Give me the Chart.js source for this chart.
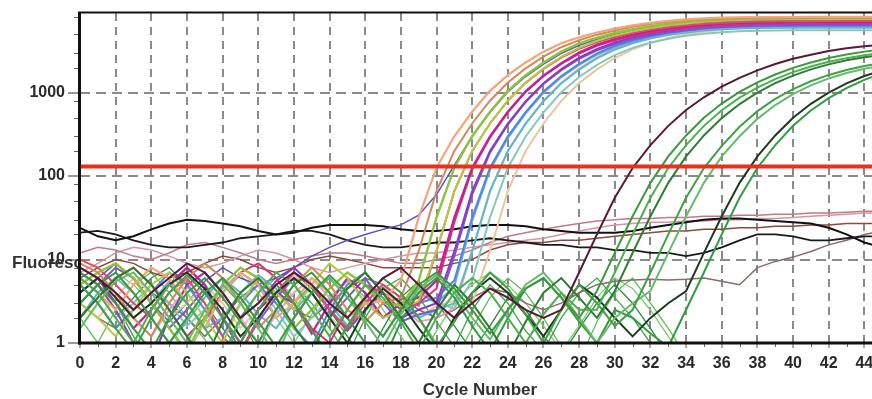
<!DOCTYPE html>
<html><head><meta charset="utf-8">
<script src="https://cdn.jsdelivr.net/npm/chart.js@4"></script>
<style>
html,body{margin:0;padding:0;background:#fff;overflow:hidden;width:872px;height:399px}
#wrap{position:absolute;left:0;top:0;width:900px;height:399px}
</style>
</head><body><div id="wrap"><canvas id="c" width="900" height="399"></canvas></div>
<script>
// ---- data ----
const cycles = [0,1,2,3,4,5,6,7,8,9,10,11,12,13,14,15,16,17,18,19,20,21,22,23,24,25,26,27,28,29,30,31,32,33,34,35,36,37,38,39,40,41,42,43,44,45];
const xTickValues = [0,2,4,6,8,10,12,14,16,18,20,22,24,26,28,30,32,34,36,38,40,42,44];
const yTickValues = [1,10,100,1000];
const yMinorValues = [2,3,5,8,20,30,50,80,200,300,500,800,2000,3000,5000,8000];
const threshold = 130;
const xTitle = 'Cycle Number';
const yTitle = 'Fluorescence';

// early amplifying wells
const e1 = [6,4,2.5,5,8,6,3,1.5,4,7,5,2,3,6,4,2,3,3.2,5.6,32,126,300,590,1050,1620,2300,3100,3900,4600,5250,5850,6400,6850,7250,7550,7780,7920,8000,8020,8050,8060,8080,8090,8100,8100,8110];
const e2 = [9,7,4,2,1.2,3,6,9,6,3,1.5,2.5,5,8,5,2.5,1.8,3,3.5,12.6,66,200,427,800,1320,1950,2700,3500,4250,4950,5550,6150,6650,7050,7350,7600,7750,7850,7900,7920,7930,7940,7950,7950,7960,7960];
const e3 = [5,7,9,6,3,1.5,0.8,2,5,8,6,3.5,1.5,2.5,4.5,7,5,3,2.8,5.6,32,126,300,590,1050,1620,2300,3100,3880,4550,5180,5750,6250,6680,7050,7330,7530,7660,7740,7780,7800,7810,7820,7820,7830,7830];
const e4 = [3,2,1.2,2.5,5,7,4,2,1,3,6,4,2.5,5,9,6,3,2,2.5,3.2,12.6,66,200,427,800,1320,1950,2680,3450,4180,4850,5420,5950,6400,6750,7050,7250,7400,7500,7550,7580,7600,7600,7610,7610,7620];
const e5 = [10,8,5,3,2,4,6,3,1.2,0.7,2,4,7,5,2.5,1.5,3,5,3.5,2.8,12.6,66,200,427,800,1310,1920,2620,3350,4030,4650,5200,5680,6080,6420,6700,6900,7030,7110,7160,7180,7190,7200,7200,7210,7210];
const e6 = [4,6,3,1.5,2.5,5,8,5,2,1,2.5,4,3,1.3,3,6,4,2,3,3.5,5.6,32,126,300,590,1040,1600,2260,3020,3760,4380,4950,5450,5880,6220,6500,6700,6830,6910,6960,6980,6990,7000,7000,7010,7010];
const e7 = [2,3.5,6,8,5,2.5,1.2,2,4,7,9,6,3,1.5,1,2.5,5,4,2.5,3,4.5,28,120,290,580,1020,1570,2210,2930,3630,4230,4780,5260,5670,6000,6270,6470,6610,6700,6750,6780,6790,6800,6800,6810,6810];
const e8 = [7,5,2.5,1,0.6,2,5,7,4,2,3,5.5,8,5,2.5,1.4,2.5,4,2,2.5,3,12.6,66,200,427,790,1300,1910,2620,3330,3980,4570,5080,5520,5880,6180,6400,6570,6670,6730,6760,6780,6790,6800,6800,6810];
const e9 = [3,5,8,6,3,1.5,2.5,4.5,2,0.8,1.8,3.5,6,4,2,3.5,6,3,1.8,2.2,2.5,11,60,190,415,770,1270,1860,2540,3210,3830,4380,4860,5270,5610,5890,6100,6260,6370,6430,6460,6480,6490,6500,6500,6510];
const e10 = [5,3,1.5,2.5,4,7,5,2.5,1.2,3,5,3,1.5,0.9,2.5,5,7,4,2,3,3.5,5.6,32,126,300,585,1030,1580,2220,2950,3640,4220,4740,5200,5570,5860,6060,6190,6260,6290,6300,6310,6310,6320,6320,6320];
const e11 = [8,6,3.5,2,3,5.5,3,1.5,2,4,6.5,4.5,2.5,4,6,3.5,2,1.2,2.5,4,3,4.8,29,118,285,565,995,1530,2150,2850,3510,4070,4570,5010,5370,5650,5850,5980,6050,6080,6090,6100,6100,6110,6110,6110];
const e12 = [2,4,6,4,2,1,1.8,3.5,6,4,2.2,1.5,3,5,3,1.6,2.4,4.5,3,2,2.5,3,12.6,66,200,425,790,1290,1890,2580,3270,3890,4440,4900,5270,5560,5760,5880,5950,5980,5990,6000,6000,6010,6010,6010];
const e13 = [6,4,2,3,5,3,1.6,2.5,4.5,7,5,2.5,1.2,2,3.5,5.5,3.5,2,3,4.5,3,2.6,5.6,32,126,298,580,1010,1540,2150,2820,3440,3970,4420,4800,5090,5300,5440,5520,5570,5590,5600,5600,5610,5610,5610];
const e14 = [5,7,4,2,1.2,2.5,4.5,7,4,2,1,2.2,4,6,3.5,2,3.5,5,2.8,1.8,2,2.6,12.6,66,200,427,795,1310,1930,2650,3400,4100,4720,5240,5650,5960,6190,6340,6420,6460,6480,6490,6500,6500,6510,6510];
const e15 = [3,2,3.5,6,4,2,3,5,3,1.5,2.5,4,6.5,4,2,1.4,2.5,4,3,2,2.8,3.2,3,12.6,66,200,427,795,1300,1900,2600,3300,3950,4520,5000,5380,5680,5900,6040,6120,6160,6180,6190,6200,6200,6210];
const e16 = [4,6,9,6,3,1.8,3,5.5,8,6,5,6,8,11,14,17,20,23,26,34,60,135,300,580,1020,1560,2200,2950,3700,4350,4950,5480,5950,6350,6680,6930,7100,7220,7280,7310,7330,7340,7350,7350,7360,7360];

// late amplifying wells
const l1 = [8,6,4,2.5,4,6,9,7,4,2,3,5,7,5,3,2,3.5,6,8,5,3,2,3,4.5,3.5,2.5,2,2.5,7,20,55,125,235,400,620,880,1180,1500,1850,2200,2550,2850,3150,3400,3600,3750];
const l2 = [3,5,7,4,2,1,2,4,6,3.5,1.8,0.9,2,4,6.5,4,2,1.2,2.5,5,7,4.5,2.5,1.3,2.5,4.5,6,3.5,2,4.2,12,33,83,172,307,500,740,1020,1330,1650,1980,2300,2600,2870,3100,3280];
const l3 = [6,4,2,1,2.5,5,3,1.5,0.7,2,4,7,5,2.5,1.2,2.5,5,3.5,1.8,0.8,2,4,6,4,2,1,2.2,4,2.5,2.5,7,20,55,125,235,400,615,870,1150,1450,1760,2060,2340,2590,2800,2980];
const l4 = [2,3.5,6,8,5,2.5,1.2,0.6,1.8,4,6,3.5,1.6,0.8,2,4.5,7,4,2,1,2.5,5,3,1.5,0.7,1.8,4,6,3.5,2,4.2,12,33,83,172,307,495,730,1000,1300,1600,1900,2180,2440,2650,2820];
const l5 = [5,3,1.5,0.8,2,4,6.5,4,2,1,2.5,5,3,1.4,0.7,1.6,3.5,6,4,2,0.9,1.8,4,7,4.5,2.2,1,2.5,5,3,1.6,2.5,7,20,55,125,230,390,600,840,1100,1370,1630,1870,2080,2260];
const l6 = [1.5,3,5.5,7,4,2,1,2.5,5,3,1.5,0.7,2,4,6,3.5,1.8,0.9,2.2,4.5,6.5,4,2,1.1,2.5,5,7,4,2,1,2,3,4.2,12,33,83,172,300,485,710,960,1220,1480,1720,1930,2100];
const l7 = [4,6,3.5,2,3,5,7,4.5,2.5,1.2,2,4,6,4,2,1,2.5,4.5,3,1.5,0.8,2,4,6,4,2.2,1.2,2.5,5,3.5,2,1.2,2,3,4.2,12,33,83,172,307,500,735,1000,1290,1580,1850];
const l8 = [7,5,3,1.5,0.8,2,4,6,3.5,1.8,1,2.5,5,7,4,2,1,0.6,1.8,4,6,3.5,1.6,0.8,2,4.5,6,3.5,1.8,1,2.5,2,1.3,0.9,2.5,7,20,55,125,235,400,610,860,1130,1420,1700];

// non-amplifying wells
const n1 = [24,19,17,19,23,27,30,29,27,25,22,20,21,24,26,26,26,25,23,22,22,23,25,26,26,25,23,22,21,21,21,22,24,26,28,30,31,31,30,29,28,27,24,20,16,14];
const n2 = [21,22,20,17,15,14,14,15,16,18,19,20,22,22,20,17,15,14,14,15,16,16,17,18,17,16,15,15,14,14,13,13,12,12,11,12,14,17,20,20,19,17,17,18,19,19];
const n3 = [12,14,13,11,10,12,15,16,14,12,10,9,10,11,12,12,11,10,9,9,10,11,13,16,19,21,23,25,27,29,30,31,31,32,32,33,33,34,34,35,35,36,36,37,38,38];
const n4 = [7,9,12,14,13,11,9,8,9,11,13,12,10,8,7,8,9,10,11,12,12,13,14,15,16,17,18,20,22,24,26,27,28,28,29,29,30,30,31,31,32,33,34,35,36,36];
const n5 = [6,8,10,9,7,6,7,9,11,10,8,7,8,10,11,10,9,8,8,8,8,9,10,13,15,16,16,17,17,18,19,20,21,22,22,23,23,24,24,25,25,26,26,27,27,27];
const n6 = [3,2,1.5,2.5,4,3,2,1.2,2,3.5,5,4,2.5,2,3,4.5,6,5,3.5,2.5,2,2.5,3.5,4.5,4,3,2.5,3,4,5,5.5,5.7,5.8,5.7,5.8,6,5.5,5,8,9.5,10.7,12.5,15,17,20,22];
const g1 = [4,6,3,1.2,0.6,2,5,7,4,2,0.8,2.5,5,3,1.5,0.7,2,4.5,6,3.5,1.8,0.9,2.5,5,3,1.4,0.8,2,4,6,3.5,2,1,0.6,0.4];
const g2 = [2,1,2.5,5,7,4,2,1.1,0.6,1.8,4,6,3.5,1.5,0.7,1.5,3.5,6,4,2,1,0.6,1.5,3.5,6,4,2,0.9,0.6,1.8,4,6,3,1.5,0.7];
const g3 = [6,4,2,3.5,6,8,5,3,1.5,0.8,2,4,7,4.5,2.5,1.2,0.6,1.5,3.5,5.5,3,1.6,0.8,1.6,3.5,2.5,1.2,0.7,1.5,3,5,3,1.5,0.7,0.4];
const g4 = [3,5,7,5,3,1.5,0.7,1.8,4,6.5,4,2,1,2.2,4.5,7,5,2.5,1.2,0.6,1.4,3,5,7,5,3,1.6,0.8,1.6,3.5,6,4.5,2.5,1.2,0.6];

// ---- styling (kept apart from the data) ----
const wells = [
  [l1,'#5a1838',2],[l2,'#3c9a3c',2],[l3,'#4caf50',2],[l4,'#2e7d32',2],[l5,'#43a047',2],[l6,'#66bb6a',2],[l7,'#1e3a1e',2],[l8,'#2f9e40',2],
  [e1,'#f3a47a',2.2],[e2,'#d4875a',2],[e3,'#8cc43c',2.4],[e4,'#b2cc3c',2],[e5,'#e24870',2],[e6,'#c21f9b',2.2],[e7,'#e0306e',2],[e8,'#8e3bbd',2],
  [e9,'#7a55d4',2],[e10,'#4f86e0',2],[e11,'#74a8d8',2],[e12,'#57bcc8',2],[e13,'#88c7be',2],[e14,'#f2a0c0',2],[e15,'#e9c6a0',2],[e16,'#5a52c8',1.5],
  [n1,'#111111',2],[n2,'#1a1a1a',1.8],[n3,'#c07a88',1.5],[n4,'#d595a3',1.5],[n5,'#8b4a3c',1.5],[n6,'#8a6a6a',1.5],
  [g1,'#3aa845',1.3],[g2,'#5cc05a',1.3],[g3,'#2a8a38',1.3],[g4,'#7acb6e',1.3]
];
const toXY = arr => arr.map((v,i)=>({x:cycles[i], y:v}));

const datasets = [{
  data:[{x:cycles[0], y:threshold},{x:cycles[cycles.length-1]+1, y:threshold}],
  borderColor:'#e8301c', borderWidth:4, pointRadius:0, tension:0
}];
wells.forEach(([arr,col,w])=>{
  datasets.push({data:toXY(arr), borderColor:col, borderWidth:w, pointRadius:0, tension:0});
});

const FONT = 'Liberation Sans, Arial, sans-serif';
Chart.defaults.font.family = FONT;

const deco = {
  id:'deco',
  beforeDraw(chart){
    const c = chart.ctx; c.save(); c.fillStyle='#fff'; c.fillRect(0,0,chart.width,chart.height); c.restore();
  },
  beforeDatasetsDraw(chart){
    const c = chart.ctx, y = chart.scales.y, a = chart.chartArea;
    c.save();
    c.beginPath(); c.rect(0, 0, a.left, chart.height); c.clip();
    c.font = 'bold 17px ' + FONT; c.fillStyle = '#333'; c.textBaseline = 'middle'; c.textAlign='left';
    c.fillText(yTitle, 12, y.getPixelForValue(10) + 4);
    c.restore();
  },
  afterDraw(chart){
    const c = chart.ctx, a = chart.chartArea, x = chart.scales.x, y = chart.scales.y;
    c.save();
    c.strokeStyle = '#666'; c.lineWidth = 1;
    cycles.forEach(v=>{ if (v%2===1){ const px = Math.round(x.getPixelForValue(v))+0.5; c.beginPath(); c.moveTo(px,a.bottom); c.lineTo(px,a.bottom+4); c.stroke(); }});
    yMinorValues.forEach(v=>{ const py = Math.round(y.getPixelForValue(v))+0.5; c.beginPath(); c.moveTo(a.left-6,py); c.lineTo(a.left,py); c.stroke(); });
    c.strokeStyle = '#111';
    c.lineWidth = 3;
    c.beginPath(); c.moveTo(a.left-0.5, a.top-1); c.lineTo(a.left-0.5, a.bottom+1.5); c.stroke();
    c.beginPath(); c.moveTo(a.left-2, a.bottom); c.lineTo(a.right, a.bottom); c.stroke();
    c.lineWidth = 2;
    c.beginPath(); c.moveTo(a.left-2, a.top-0.5); c.lineTo(a.right, a.top-0.5); c.stroke();
    c.font = 'bold 17px ' + FONT; c.fillStyle = '#333'; c.textAlign='center'; c.textBaseline='middle';
    c.fillText(xTitle, 480, 390);
    c.restore();
  }
};

new Chart(document.getElementById('c'), {
  type:'line',
  data:{datasets},
  plugins:[deco],
  options:{
    responsive:false, animation:false, devicePixelRatio:1,
    layout:{padding:{top:13,right:0,left:0,bottom:0}},
    plugins:{legend:{display:false}, tooltip:{enabled:false}},
    scales:{
      x:{
        type:'linear', min:0, max:46,
        afterBuildTicks:s=>{ s.ticks = xTickValues.map(v=>({value:v})); },
        afterFit:s=>{ s.height = 56; },
        grid:{color:'#8a8a8a', lineWidth:2, tickLength:5, tickColor:'#555', tickWidth:1},
        border:{display:false, dash:[8,6]},
        ticks:{font:{size:16, weight:'bold'}, color:'#2a2a2a', padding:6, maxRotation:0, autoSkip:false}
      },
      y:{
        type:'logarithmic', min:1, max:9000,
        afterBuildTicks:s=>{ s.ticks = yTickValues.map(v=>({value:v})); },
        afterFit:s=>{ s.width = 80; },
        grid:{color:'#8a8a8a', lineWidth:2, tickLength:12, tickColor:'#777', tickWidth:1.5},
        border:{display:false, dash:[10,6]},
        ticks:{font:{size:16, weight:'bold'}, color:'#2a2a2a', padding:3, autoSkip:false, callback:v=>String(v)}
      }
    }
  }
});
</script>
</body></html>
